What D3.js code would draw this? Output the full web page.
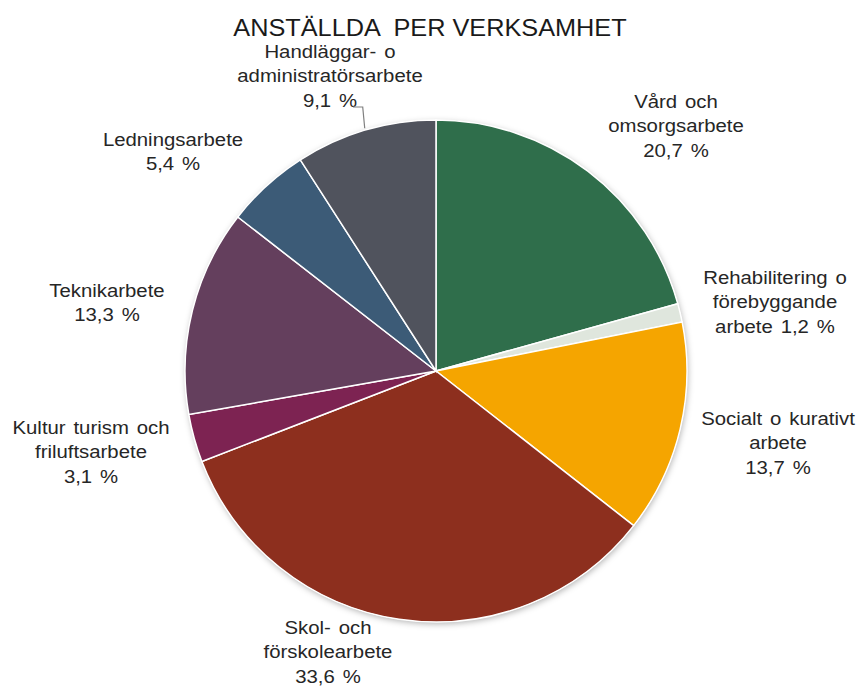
<!DOCTYPE html>
<html>
<head>
<meta charset="utf-8">
<script src="https://cdn.jsdelivr.net/npm/d3@7"></script>
<style>
  html, body { margin: 0; padding: 0; background: #fff; }
  svg { display: block; font-family: "Liberation Sans", Arial, sans-serif; }
</style>
</head>
<body>
<svg id="chart" width="857" height="686"></svg>
<script>
// Employees by field of work, share in percent
const categories = [
  "Vård och omsorgsarbete",
  "Rehabilitering o förebyggande arbete",
  "Socialt o kurativt arbete",
  "Skol- och förskolearbete",
  "Kultur turism och friluftsarbete",
  "Teknikarbete",
  "Ledningsarbete",
  "Handläggar- o administratörsarbete"
];
const values = [20.7, 1.2, 13.7, 33.6, 3.1, 13.3, 5.4, 9.1];
const colors = ["#2f6e4b", "#dfe6dd", "#f5a500", "#8d2f1e", "#7d2352", "#643f5d", "#3c5b77", "#50535d"];
// Label text lines, the value is appended where "{v}" stands
const labelLines = [
  ["Vård och", "omsorgsarbete", "{v}"],
  ["Rehabilitering o", "förebyggande", "arbete {v}"],
  ["Socialt o kurativt", "arbete", "{v}"],
  ["Skol- och", "förskolearbete", "{v}"],
  ["Kultur turism och", "friluftsarbete", "{v}"],
  ["Teknikarbete", "{v}"],
  ["Ledningsarbete", "{v}"],
  ["Handläggar- o", "administratörsarbete", "{v}"]
];
const title = "ANSTÄLLDA  PER VERKSAMHET";

const fmt = v => d3.format(".1f")(v).replace(".", ",") + " %";
const stretch = 1.1; // text is set slightly wide
const wide = x => `translate(${x},0) scale(${stretch},1) translate(${-x},0)`;

const svg = d3.select("#chart");
const cx = 436, cy = 371, r = 251;

const defs = svg.append("defs");
const f = defs.append("filter").attr("id", "shadow")
  .attr("x", "-10%").attr("y", "-10%").attr("width", "120%").attr("height", "120%");
f.append("feDropShadow").attr("dx", 1).attr("dy", 2).attr("stdDeviation", 3)
  .attr("flood-color", "#000").attr("flood-opacity", 0.3);

svg.append("text")
  .attr("x", 430).attr("y", 36)
  .attr("transform", wide(430))
  .attr("text-anchor", "middle")
  .attr("font-size", 23)
  .attr("fill", "#1a1a1a")
  .style("white-space", "pre")
  .text(title);

const pie = d3.pie().sort(null).value(d => d)
  .startAngle(0).endAngle(2 * Math.PI);
const arcs = pie(values);
const arc = d3.arc().innerRadius(0).outerRadius(r);

const g = svg.append("g").attr("transform", `translate(${cx},${cy})`);
g.append("circle").attr("r", r).attr("fill", "#fff").attr("filter", "url(#shadow)");
g.selectAll("path.slice")
  .data(arcs)
  .join("path")
  .attr("class", "slice")
  .attr("d", arc)
  .attr("fill", (d, i) => colors[i])
  .attr("stroke", "#fff")
  .attr("stroke-width", 1.5);

// Label anchor positions (centre of text block, first-line baseline)
const labelPos = [
  [676, 108], [775, 284], [778, 425], [328, 634],
  [91, 434], [107, 297], [173, 146], [330, 58]
];
const lineH = 24.3;

const labels = svg.append("g").attr("font-size", 18.5).attr("fill", "#262626")
  .attr("word-spacing", 2);
labelLines.forEach((lines, i) => {
  const t = labels.append("text")
    .attr("x", labelPos[i][0]).attr("y", labelPos[i][1])
    .attr("transform", wide(labelPos[i][0]))
    .attr("text-anchor", "middle")
    .style("white-space", "pre");
  lines.forEach((ln, k) => {
    t.append("tspan")
      .attr("x", labelPos[i][0])
      .attr("dy", k === 0 ? 0 : lineH)
      .text(ln.replace("{v}", fmt(values[i])));
  });
});

// Leader line from the administration label to the middle of its slice
const adm = arcs[7];
const mid = (adm.startAngle + adm.endAngle) / 2;
const edgeX = cx + Math.sin(mid) * (r + 2);
const edgeY = cy - Math.cos(mid) * (r + 2);
svg.append("path")
  .attr("d", `M353,107 H${edgeX - 2} L${edgeX},${edgeY}`)
  .attr("fill", "none")
  .attr("stroke", "#7f7f7f")
  .attr("stroke-width", 1.2);
</script>
</body>
</html>
